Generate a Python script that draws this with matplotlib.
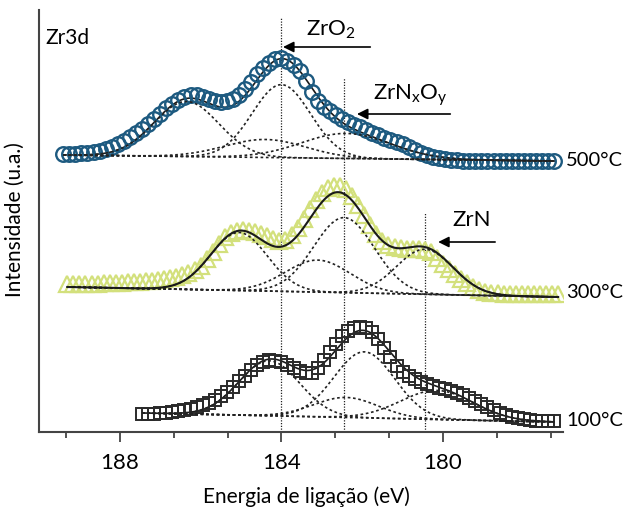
import numpy as np
import matplotlib
matplotlib.use("Agg")
import matplotlib.pyplot as plt

plt.rcParams['font.family'] = ['Lato', 'DejaVu Sans']
plt.rcParams['mathtext.fontset'] = 'custom'
plt.rcParams['mathtext.rm'] = 'Lato'
plt.rcParams['mathtext.it'] = 'Lato'

# ---------------- data (intensity in arbitrary units, stacked) ----------------
start_500, step = 189.40, 0.15
I_500 = [278, 278, 278, 279, 279, 280, 281, 283, 285, 288,
         291, 295, 299, 303, 308, 313, 318, 324, 328, 332,
         335, 337, 337, 335, 333, 331, 330, 331, 333, 337,
         343, 350, 358, 364, 369, 373, 374, 371, 367, 361,
         351, 340, 331, 325, 321, 317, 313, 310, 307, 305,
         302, 299, 297, 294, 292, 290, 288, 285, 282, 279,
         277, 275, 274, 273, 272, 272, 271, 271, 271, 271,
         271, 271, 271, 271, 271, 271, 271, 271, 271, 271,
         271, 271]

start_300 = 189.30
I_300 = [148, 148, 148, 148, 148, 148, 149, 149, 149, 149,
         150, 150, 150, 151, 151, 152, 153, 154, 155, 157,
         159, 162, 166, 173, 180, 188, 195, 199, 201, 202,
         201, 200, 198, 196, 193, 191, 192, 197, 204, 213,
         223, 232, 239, 244, 246, 246, 243, 236, 227, 217,
         207, 198, 191, 187, 185, 184, 183, 183, 183, 182,
         180, 174, 168, 163, 158, 153, 149, 145, 142, 140,
         139, 139, 138, 138, 138, 138, 138, 138, 138, 138,
         138, 138]

start_100 = 187.45
I_100 = [18, 18, 18, 19, 19, 20, 21, 22, 23, 25,
         27, 29, 32, 36, 40, 45, 51, 56, 62, 67,
         70, 72, 71, 70, 67, 64, 61, 59, 59, 64,
         72, 80, 88, 96, 101, 104, 105, 104, 100, 93,
         84, 75, 66, 60, 56, 53, 50, 48, 46, 44,
         43, 41, 39, 37, 34, 31, 28, 25, 22, 19,
         17, 15, 14, 13, 12, 11, 11, 11, 11]

# fitted components: centre (eV), height, sigma (eV)
fit_500_c = [186.35, 184.00, 184.40, 182.40]
fit_500_h = [55, 73, 18, 25]
fit_500_s = [0.80, 0.72, 1.00, 1.10]
bg_500 = [277, 271]   # background at left / right end

fit_300_c = [185.05, 183.10, 182.45, 180.45]
fit_300_h = [58, 32, 75, 45]
fit_300_s = [0.70, 0.80, 0.75, 0.70]
bg_300 = [145, 135]

fit_100_c = [184.30, 182.40, 181.95, 180.15]
fit_100_h = [55, 20, 66, 29]
fit_100_s = [0.75, 0.80, 0.75, 0.90]
bg_100 = [19, 10]

ref_lines = [184.0, 182.45, 180.45]
ref_tops = [414, 354, 220]
temps = ['500°C', '300°C', '100°C']

# ---------------- figure ----------------
fig = plt.figure(figsize=(6.25, 5.08), dpi=100)
ax = fig.add_axes([39/625, 76/508, 524/625, 422/508])
ax.set_xlim(190.0, 177.03)
ax.set_ylim(0, 422)

def energies(start, n):
    return np.round(start - step*np.arange(n), 2)

def draw(start, I, cs, hs, ss, bg, marker, mfc, mec, ms, mew, env_z, env_lw):
    E = energies(start, len(I))
    ax.plot(E, I, linestyle='none', marker=marker, ms=ms, mfc=mfc,
            mec=mec, mew=mew, zorder=2)
    Ef = np.linspace(E[0], E[-1], 400)
    base = np.interp(Ef, [E[-1], E[0]], [bg[1], bg[0]])
    tot = base.copy()
    for c, h, s in zip(cs, hs, ss):
        g = h*np.exp(-(Ef-c)**2/(2*s**2))
        tot += g
        ax.plot(Ef, base+g, ls=(0, (1.6, 1.6)), color='#222222', lw=1.2, zorder=3)
    ax.plot(Ef, base, ls=(0, (1.6, 1.6)), color='#222222', lw=1.2, zorder=3)
    ax.plot(Ef, tot, color='#1a1a1a', lw=env_lw, zorder=env_z)

draw(start_500, I_500, fit_500_c, fit_500_h, fit_500_s, bg_500,
     'o', 'none', '#1d5a80', 10.5, 1.7, 1.5, 1.2)
draw(start_300, I_300, fit_300_c, fit_300_h, fit_300_s, bg_300,
     '^', 'none', '#d3e07c', 11, 1.6, 4, 1.5)
draw(start_100, I_100, fit_100_c, fit_100_h, fit_100_s, bg_100,
     's', 'none', '#2a2a2a', 8.5, 1.4, 1.5, 1.2)

for xv, top in zip(ref_lines, ref_tops):
    ax.plot([xv, xv], [0, top], ls=(0, (1, 1.2)), color='#222222', lw=0.9, zorder=1)

arrow = dict(arrowstyle='-|>', color='black', lw=1.2, mutation_scale=16,
             shrinkA=0, shrinkB=0)
ax.annotate('', xy=(183.96, 385), xytext=(181.8, 385), arrowprops=arrow)
ax.annotate('', xy=(182.13, 318), xytext=(179.82, 318), arrowprops=arrow)
ax.annotate('', xy=(180.12, 190), xytext=(178.71, 190), arrowprops=arrow)

ax.text(182.78, 402, r'ZrO$_\mathregular{2}$', fontsize=16, ha='center', va='center')
ax.text(180.80, 337, r'ZrN$_\mathregular{x}$O$_\mathregular{y}$', fontsize=16,
        ha='center', va='center')
ax.text(179.30, 212, 'ZrN', fontsize=16, ha='center', va='center')
ax.text(189.85, 394, 'Zr3d', fontsize=15, ha='left', va='center')

for lbl, yv in zip(temps, [272, 139, 11]):
    ax.text(176.95, yv, lbl, fontsize=14.5, ha='left', va='center', clip_on=False)

# axes styling
for sp in ['top', 'right']:
    ax.spines[sp].set_visible(False)
for sp in ['left', 'bottom']:
    ax.spines[sp].set_color('#444444')
    ax.spines[sp].set_linewidth(1.5)
ax.set_yticks([])
ax.set_xticks([188, 184, 180])
ax.set_xticklabels(['188', '184', '180'])
ax.set_xticks([189.333, 186.667, 185.333, 182.667, 181.333, 178.667, 177.333], minor=True)
ax.tick_params(axis='x', which='major', length=7, width=1.3, color='#444444',
               labelsize=16, pad=8)
ax.tick_params(axis='x', which='minor', length=4, width=1.3, color='#444444')

fig.text(306/625, (508-497)/508, 'Energia de ligação (eV)', fontsize=15,
         ha='center', va='center')
fig.text(15/625, (508-220)/508, 'Intensidade (u.a.)', fontsize=15,
         ha='center', va='center', rotation=90)

fig.savefig('out.png', dpi=100)
